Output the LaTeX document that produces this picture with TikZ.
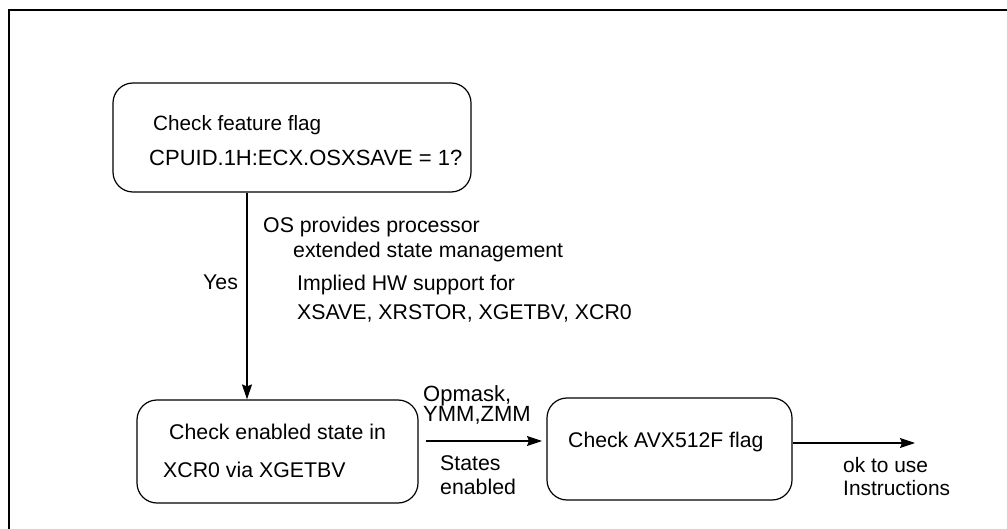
\documentclass[tikz,border=0pt]{standalone}
\usepackage{fontspec}
\setmainfont{Liberation Sans}
\usetikzlibrary{arrows.meta}
\newcommand{\fs}[2]{\fontsize{#1}{#2}\selectfont}
\begin{document}
\begin{tikzpicture}[x=1pt,y=-1pt,
  box/.style={draw,line width=1.2pt,rounded corners=20pt,inner sep=0pt},
  txt/.style={anchor=west,inner sep=0pt,font=\fs{21.3}{24}},
  arr/.style={line width=1.2pt,-{Stealth[length=15pt,width=10pt,inset=2pt]}}]
\useasboundingbox (0,0) rectangle (1007,529);
\draw[line width=2.6pt] (9,529) -- (9,10) -- (1007,10);
% boxes
\node[box,minimum width=358pt,minimum height=109pt] (b1) at (292,137.5) {};
\node[box,minimum width=281pt,minimum height=103pt] (b2) at (277.5,451.5) {};
\node[box,minimum width=245pt,minimum height=102pt] (b3) at (669.5,449) {};
% texts
\node[txt,font=\fs{20.7}{24}] (t1) at (153,125) {Check feature flag};
\node[txt,font=\fs{22}{24}] (t2) at (149,158) {CPUID.1H:ECX.OSXSAVE = 1?};
\node[txt] (t3) at (169,432) {Check enabled state in};
\node[txt] (t4) at (163,470) {XCR0 via XGETBV};
\node[txt,font=\fs{21.2}{24}] (t5) at (568,442) {Check AVX512F flag};
\node[txt] (yes) at (203,282) {Yes};
\node[txt] (l1) at (263,227) {OS provides processor};
\node[txt] (l2) at (293,252) {extended state management};
\node[txt] (l3) at (297,285) {Implied HW support for};
\node[txt] (l4) at (297,313) {XSAVE, XRSTOR, XGETBV, XCR0};
\node[txt,align=left,font=\fs{22}{20}] (l5) at (423,405) {Opmask,\\YMM,ZMM};
\node[txt,align=left,font=\fs{21.3}{24}] (l6) at (440,475) {States\\enabled};
\node[txt,align=left,font=\fs{20.9}{23}] (l7) at (843,476.5) {ok to use\\Instructions};
% connectors
\coordinate (ax) at (247,0);
\coordinate (ay) at (0,441);
\coordinate (bx) at (542,0);
\coordinate (cy) at (0,443);
\coordinate (end) at (915,443);
\draw[arr] (b1.south -| ax) -- (b2.north -| ax);
\draw[arr,shorten <=7pt] (b2.east |- ay) -- (bx |- ay);
\draw[arr] (b3.east |- cy) -- (end);
\end{tikzpicture}
\end{document}
